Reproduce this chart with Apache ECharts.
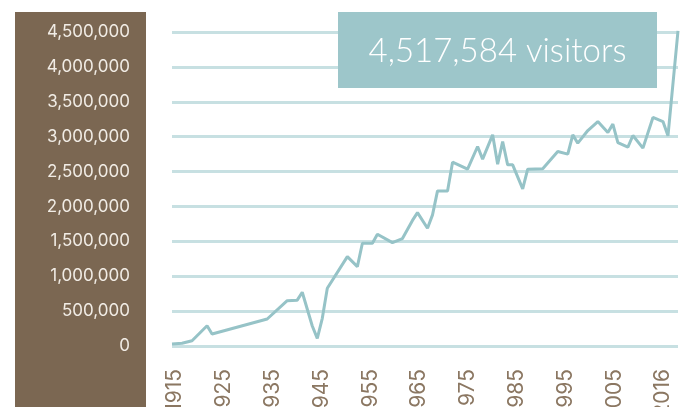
<!DOCTYPE html>
<html>
<head>
<meta charset="utf-8">
<script src="https://cdn.jsdelivr.net/npm/echarts@6/dist/echarts.min.js"></script>
<style>
  html, body { margin: 0; padding: 0; background: #fff; }
  #chart { width: 689px; height: 407px; }
</style>
</head>
<body>
<div id="chart"></div>
<script>
// visitors per year
const years = [1915, 1917, 1919, 1922, 1923, 1934, 1938, 1940, 1941, 1943, 1944, 1945, 1946,
  1950, 1952, 1953, 1955, 1956, 1959, 1961, 1963, 1964, 1966, 1967, 1968, 1970, 1971,
  1974, 1976, 1977, 1979, 1980, 1981, 1982, 1983, 1985, 1986, 1989, 1992, 1994, 1995,
  1996, 1998, 2000, 2002, 2003, 2004, 2006, 2007, 2009, 2011, 2013, 2014, 2016]
const visitors = [30000, 40000, 76000, 291000, 172000, 387000, 650000, 657000, 770000, 287000, 110000, 397000, 828000,
  1281000, 1137000, 1473000, 1473000, 1602000, 1482000, 1540000, 1800000, 1912000, 1688000, 1879000, 2223000, 2223000, 2635000,
  2534000, 2859000, 2678000, 3026000, 2606000, 2930000, 2596000, 2596000, 2252000, 2534000, 2539000, 2787000, 2750000, 3026000,
  2907000, 3088000, 3217000, 3060000, 3180000, 2916000, 2850000, 3017000, 2836000, 3275000, 3217000, 3012000, 4517584]
const yearLabels = ['1915', '1925', '1935', '1945', '1955', '1965', '1975', '1985', '1995', '2005', '2016']

const chart = echarts.init(document.getElementById('chart'))

const fmt = (v) => v.toLocaleString('en-US')
const lastValue = visitors[visitors.length - 1]

const option = {
  animation: false,
  textStyle: { fontFamily: 'Inter, "Noto Sans", sans-serif' },
  grid: [
    // plot area
    { left: 172, right: 11, top: 32, bottom: 61, outerBoundsMode: 'none' },
    // only carries the year labels, which are spaced evenly in the reference
    { left: 175, right: 26, top: 32, bottom: 61, outerBoundsMode: 'none' }
  ],
  xAxis: [
    {
      type: 'value',
      gridIndex: 0,
      min: 1915,
      max: 2016,
      axisLine: { show: false },
      axisTick: { show: false },
      axisLabel: { show: false },
      splitLine: { show: false }
    },
    {
      type: 'category',
      gridIndex: 1,
      data: yearLabels,
      boundaryGap: false,
      axisLine: { show: false },
      axisTick: { show: false },
      axisLabel: {
        rotate: 90,
        margin: 23,
        interval: 0,
        fontSize: 21,
        color: '#8b7762'
      }
    }
  ],
  yAxis: [
    {
      type: 'value',
      gridIndex: 0,
      min: 0,
      max: 4500000,
      interval: 500000,
      axisLine: { show: false },
      axisTick: { show: false },
      axisLabel: {
        margin: 42,
        fontSize: 17,
        color: '#f1ece5',
        formatter: (v) => fmt(v)
      },
      splitLine: { lineStyle: { color: '#c7e0e2', width: 3 } }
    },
    {
      type: 'value',
      gridIndex: 1,
      show: false
    }
  ],
  graphic: [
    {
      type: 'rect',
      left: 15,
      top: 12,
      z: -10,
      shape: { width: 131, height: 395 },
      style: { fill: '#7b6752' }
    },
    {
      type: 'rect',
      left: 338,
      top: 12,
      z: 100,
      shape: { width: 319, height: 76 },
      style: { fill: '#9dc6ca' }
    },
    {
      type: 'text',
      x: 497.5,
      y: 51,
      z: 101,
      style: {
        text: fmt(lastValue) + ' visitors',
        fill: '#ffffff',
        font: '300 33px Lato, sans-serif',
        textAlign: 'center',
        textVerticalAlign: 'middle'
      }
    }
  ],
  series: [
    {
      type: 'line',
      xAxisIndex: 0,
      yAxisIndex: 0,
      data: years.map((y, i) => [y, visitors[i]]),
      showSymbol: false,
      clip: false,
      lineStyle: { color: '#96c3c7', width: 3 }
    }
  ]
}

chart.setOption(option)
</script>
</body>
</html>
